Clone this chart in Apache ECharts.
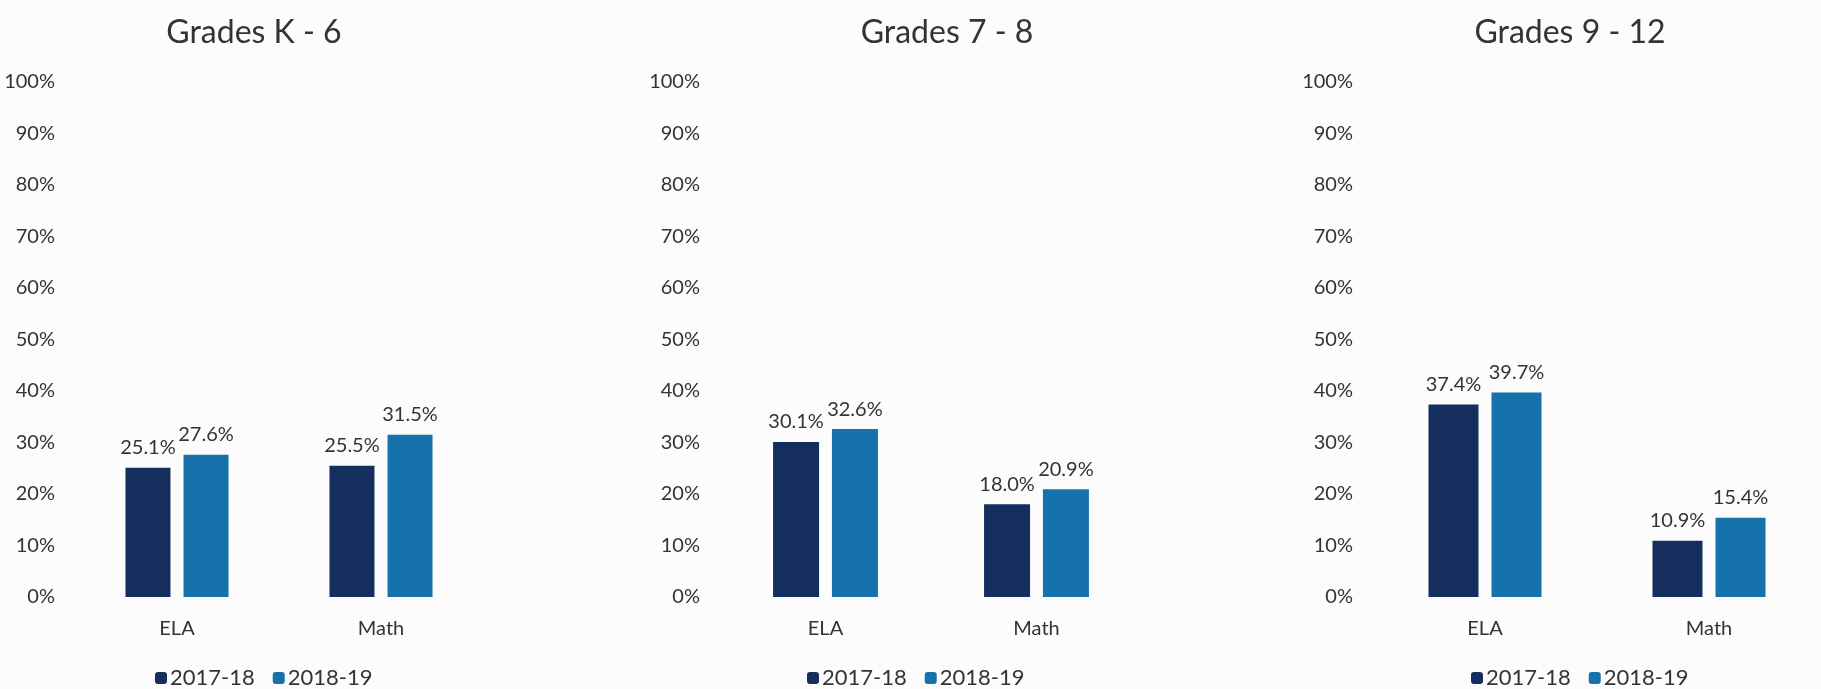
<!DOCTYPE html>
<html>
<head>
<meta charset="utf-8">
<script src="https://cdn.jsdelivr.net/npm/echarts@6/dist/echarts.min.js"></script>
<style>
  html, body { margin: 0; padding: 0; background: #fcfcfc; }
  #chart { width: 1821px; height: 689px; }
</style>
</head>
<body>
<div id="chart"></div>
<script>
// 数据
const titles = ['Grades K - 6', 'Grades 7 - 8', 'Grades 9 - 12'];
const categories = ['ELA', 'Math'];
const seriesNames = ['2017-18', '2018-19'];
const values2017 = [
    [25.1, 25.5],
    [30.1, 18.0],
    [37.4, 10.9]
];
const values2018 = [
    [27.6, 31.5],
    [32.6, 20.9],
    [39.7, 15.4]
];

// 布局
const grids = [
    { left: 75, width: 408, barWidth: 45, titleX: 249, legendX: 150 },
    { left: 720, width: 422, barWidth: 46, titleX: 942, legendX: 802 },
    { left: 1373, width: 448, barWidth: 50, titleX: 1565, legendX: 1466 }
];
const colors = ['#142f5d', '#1572aa'];
const fontFamily = 'Lato, "Open Sans", sans-serif';
const textColor = '#333333';

const chart = echarts.init(document.getElementById('chart'));

const option = {
    backgroundColor: '#fcfcfc',
    animation: false,
    textStyle: { fontFamily: fontFamily },
    title: grids.map((g, i) => ({
        text: titles[i],
        left: g.titleX,
        top: 12,
        textAlign: 'center',
        textStyle: { fontSize: 32, fontWeight: 'normal', color: textColor, fontFamily: fontFamily }
    })),
    legend: grids.map(g => ({
        data: seriesNames,
        left: g.legendX,
        top: 662,
        orient: 'horizontal',
        itemWidth: 12,
        itemHeight: 12,
        itemGap: 18,
        textStyle: { fontSize: 22, color: textColor, fontFamily: fontFamily, padding: [0, 0, 0, -2] },
        selectedMode: false
    })),
    grid: grids.map(g => ({ left: g.left, width: g.width, top: 82, bottom: 92 })),
    xAxis: grids.map((g, i) => ({
        type: 'category',
        gridIndex: i,
        data: categories,
        axisLine: { show: false },
        axisTick: { show: false },
        axisLabel: { fontSize: 20, color: textColor, margin: 22 }
    })),
    yAxis: grids.map((g, i) => ({
        type: 'value',
        gridIndex: i,
        min: 0,
        max: 100,
        interval: 10,
        splitLine: { show: false },
        axisLine: { show: false },
        axisTick: { show: false },
        axisLabel: { fontSize: 20, color: textColor, margin: 20, formatter: '{value}%' }
    })),
    series: []
};

grids.forEach((g, i) => {
    [values2017[i], values2018[i]].forEach((vals, k) => {
        option.series.push({
            name: seriesNames[k],
            type: 'bar',
            xAxisIndex: i,
            yAxisIndex: i,
            data: vals,
            barWidth: g.barWidth,
            barGap: (13 / g.barWidth * 100).toFixed(0) + '%',
            itemStyle: { color: colors[k] },
            label: {
                show: true,
                position: 'top',
                distance: 10,
                fontSize: 20,
                color: textColor,
                formatter: p => p.value.toFixed(1) + '%'
            }
        });
    });
});

chart.setOption(option);
</script>
</body>
</html>
